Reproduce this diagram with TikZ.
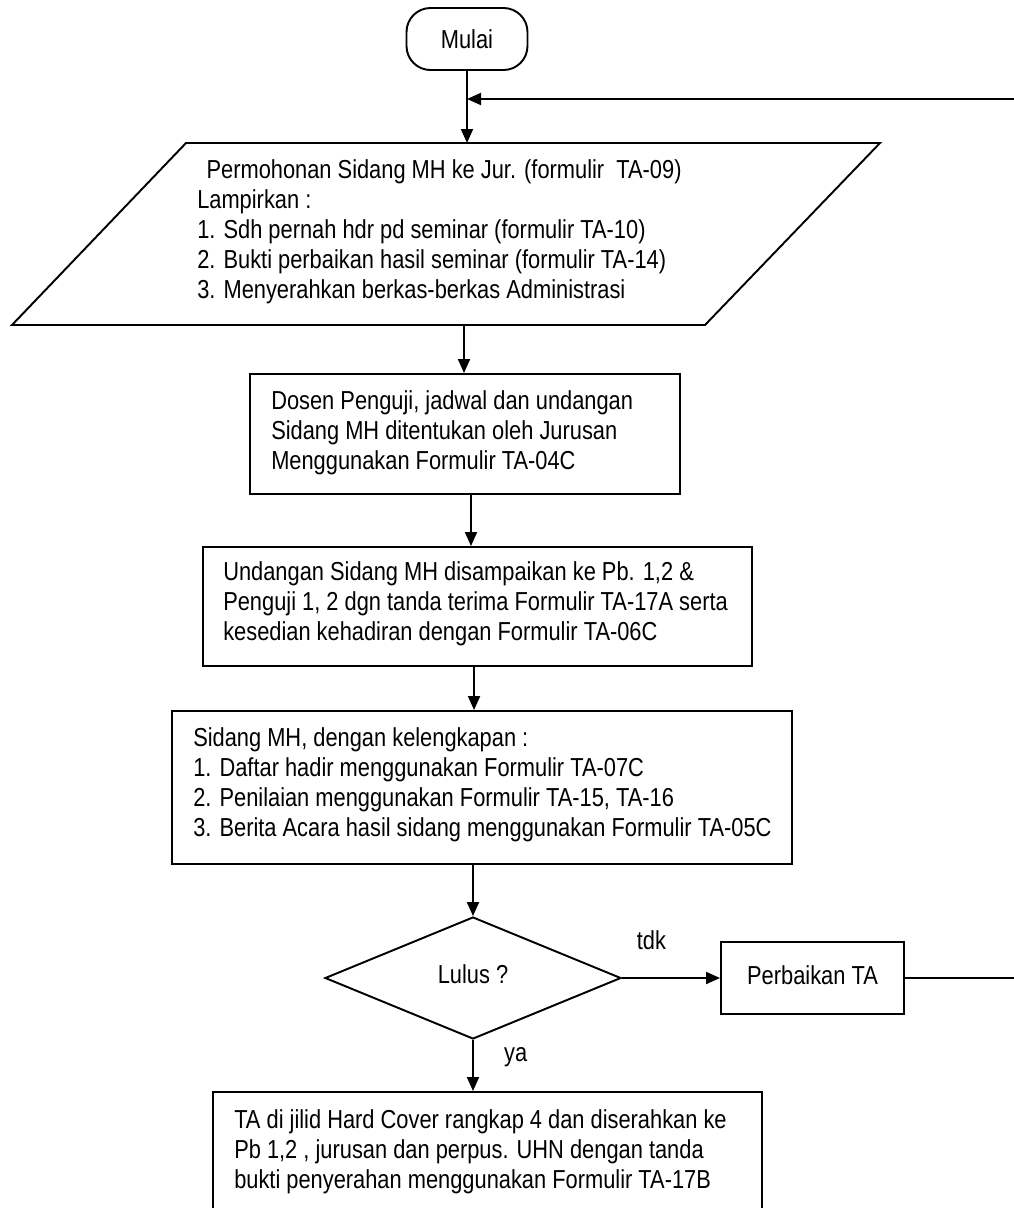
\documentclass[tikz,border=0pt]{standalone}
\usepackage{fontspec}
\setmainfont{Liberation Sans}[FakeStretch=0.84]
\usetikzlibrary{arrows.meta,shapes.geometric}
\def\pxu{0.75pt}
\begin{document}
\begin{tikzpicture}[x=0.75pt, y=-0.75pt,
  every node/.style={font=\fontsize{19.5}{22.5}\selectfont},
  line/.style={line width=1.45pt},
  arr/.style={line width=1.45pt, -{Triangle[length=10.5pt,width=9pt]}},
  term/.style={draw, line width=1.45pt, rounded corners=24*\pxu, minimum width=121*\pxu, minimum height=62*\pxu, inner sep=0pt},
  box/.style={draw, line width=1.45pt, inner sep=0pt},
  txt/.style={anchor=west, align=left, inner sep=0pt},
  dec/.style={draw, diamond, line width=1.45pt, inner sep=0pt, minimum width=296*\pxu, minimum height=122*\pxu}]
\useasboundingbox (0,0) rectangle (1014,1208);

% start
\node[term] (start) at (467,39) {\raisebox{-2pt}{Mulai}};

% input parallelogram
\coordinate (pTL) at (186,143);
\coordinate (pTR) at (880,143);
\coordinate (pBR) at (705,325);
\coordinate (pBL) at (12,325);
\coordinate (reqtop) at (467,143);
\coordinate (reqbot) at (464,325);
\draw[line] (pTL) -- (pTR) -- (pBR) -- (pBL) -- cycle;
\node[txt] (t1) at (197,232) {\hspace*{7pt}Permohonan Sidang MH ke Jur. (formulir\ \ TA-09)\\Lampirkan :\\1. Sdh pernah hdr pd seminar (formulir TA-10)\\2. Bukti perbaikan hasil seminar (formulir TA-14)\\3. Menyerahkan berkas-berkas Administrasi};

% box 2
\node[box, minimum width=430*\pxu, minimum height=120*\pxu] (b2) at (465,434) {};
\node[txt] (t2) at (271,433) {Dosen Penguji, jadwal dan undangan\\Sidang MH ditentukan oleh Jurusan\\Menggunakan Formulir TA-04C};

% box 3
\node[box, minimum width=549*\pxu, minimum height=119*\pxu] (b3) at (477.5,606.5) {};
\node[txt] (t3) at (223,604) {Undangan Sidang MH disampaikan ke Pb. 1,2 \&\\Penguji 1, 2 dgn tanda terima Formulir TA-17A serta\\kesedian kehadiran dengan Formulir TA-06C};

% box 4
\node[box, minimum width=620*\pxu, minimum height=153*\pxu] (b4) at (482,787.5) {};
\node[txt] (t4) at (193,785) {Sidang MH, dengan kelengkapan :\\1. Daftar hadir menggunakan Formulir TA-07C\\2. Penilaian menggunakan Formulir TA-15, TA-16\\3. Berita Acara hasil sidang menggunakan Formulir TA-05C};

% decision
\node[dec] (dia) at (473,978) {\raisebox{6pt}{Lulus ?}};

% repair
\node[box, minimum width=183*\pxu, minimum height=72*\pxu] (perb) at (812.5,978) {\raisebox{5pt}{Perbaikan TA}};

% box 5
\node[box, minimum width=549*\pxu, minimum height=160*\pxu] (b5) at (487.5,1172) {};
\node[txt] (t5) at (234,1152) {TA di jilid Hard Cover rangkap 4 dan diserahkan ke\\Pb 1,2 , jurusan dan perpus. UHN dengan tanda\\bukti penyerahan menggunakan Formulir TA-17B};

% connectors
\coordinate (loopc) at (1040,99);
\coordinate (loopin) at (467,99);
\draw[arr] (start) -- (reqtop);
\draw[arr] (reqbot) -- (reqbot |- b2.north);
\draw[arr] ([xshift=4.5pt]b2.south) -- ([xshift=4.5pt]b2.south |- b3.north);
\draw[arr] ([xshift=-2.6pt]b3.south) -- ([xshift=-2.6pt]b3.south |- b4.north);
\draw[arr] (b4.south -| dia.north) -- (dia.north);
\draw[arr] (dia.east) -- node[pos=0.3, yshift=28.5pt] (tdk) {tdk} (perb.west);
\draw[arr] (dia.south) -- node[pos=0.34, xshift=32pt] (ya) {ya} (dia.south |- b5.north);
\draw[arr] (perb.east) -| (loopc) -- (loopin);
\end{tikzpicture}
\end{document}
